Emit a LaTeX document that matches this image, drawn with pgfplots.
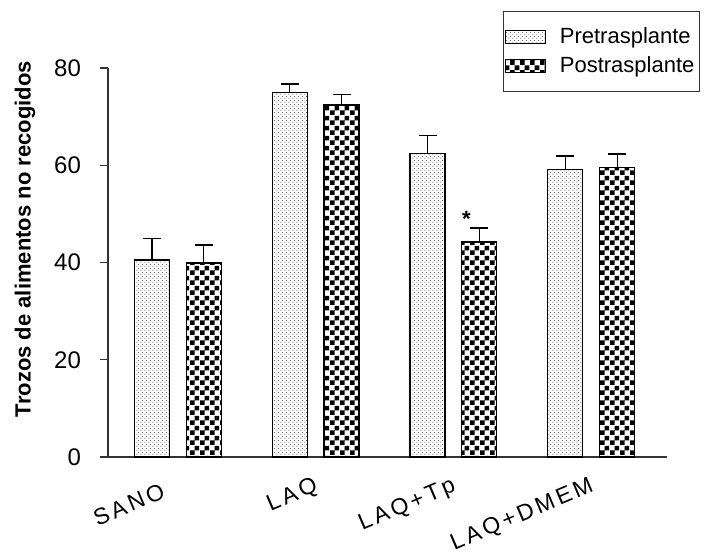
\documentclass[border=0pt]{standalone}
\usepackage{pgfplots}
\pgfplotsset{compat=1.18}
\usepackage{fontspec}
\setmainfont{Liberation Sans}
\newfontfamily\spaced[LetterSpace=14]{Liberation Sans}
\usetikzlibrary{patterns.meta}

\pgfdeclarepattern{
  name=checker, type=uncolored,
  bottom left={\pgfpoint{0pt}{0pt}},
  top right={\pgfpoint{5pt}{5pt}},
  tile size={\pgfpoint{5pt}{5pt}},
  code={
    \pgfpathrectangle{\pgfpoint{0pt}{0pt}}{\pgfpoint{2.5pt}{2.5pt}}
    \pgfpathrectangle{\pgfpoint{2.5pt}{2.5pt}}{\pgfpoint{2.5pt}{2.5pt}}
    \pgfusepath{fill}
  }
}
\pgfdeclarepattern{
  name=finedots, type=uncolored,
  bottom left={\pgfpoint{0pt}{0pt}},
  top right={\pgfpoint{2pt}{2pt}},
  tile size={\pgfpoint{2pt}{2pt}},
  code={
    \pgfpathcircle{\pgfpoint{0.5pt}{0.5pt}}{0.32pt}
    \pgfpathcircle{\pgfpoint{1.5pt}{1.5pt}}{0.32pt}
    \pgfusepath{fill}
  }
}

\pgfplotstableread{
x  pre  preerr  post  posterr
0  40.5  4.5    39.9  3.7
1  74.9  1.8    72.4  2.2
2  62.5  3.7    44.2  2.9
3  59.2  2.7    59.6  2.7
}\datatable

\begin{document}
\begin{tikzpicture}
\begin{axis}[
  scale only axis,
  width=279.5pt, height=194.5pt,
  xmin=-0.507, xmax=3.55,
  ymin=0, ymax=80,
  ybar,
  axis lines*=left,
  axis line style={line width=0.7pt, black!80},
  ytick={0,20,40,60,80},
  xtick={0,1,2,3},
  xticklabels={SANO\hspace*{8pt}, LAQ, LAQ+Tp, LAQ+DMEM},
  x tick style={draw=none},
  y tick style={line width=0.7pt, black!80},
  tick align=outside,
  major tick length=4pt,
  /pgf/number format/assume math mode=true,
  yticklabel style={font=\fontsize{12}{14}\selectfont, xshift=-6pt},
  xticklabel style={font=\fontsize{11.5}{14}\selectfont\spaced, rotate=23, anchor=north east, yshift=-1pt, xshift=0pt},
  ylabel={Trozos de alimentos no recogidos},
  ylabel style={font=\fontsize{11}{13}\selectfont\bfseries, at={(axis description cs:-0.1485,0.56)}, anchor=center},
  bar width=0.254,
  legend style={at={(1.059,1.146)}, anchor=north east, draw=black!80, line width=0.6pt,
    font=\fontsize{11}{13}\selectfont, row sep=1pt, inner xsep=0.5pt, inner ysep=6pt, cells={anchor=west}},
  legend image code/.code={\draw[#1, line width=0.5pt] (0pt,-3.25pt) rectangle (20pt,3.25pt);},
]
\addplot[bar shift=-0.188, draw=black, line width=0.6pt, pattern={finedots}, pattern color=black!65,
  error bars/.cd, y dir=plus, y explicit,
  error bar style={line width=0.6pt, black},
  error mark options={rotate=90, mark size=4.5pt, line width=0.6pt, black}]
  table[x=x, y=pre, y error=preerr] {\datatable};
\addlegendentry{\hspace*{5pt}Pretrasplante}
\addplot[bar shift=0.188, draw=black, line width=0.6pt, pattern={checker}, pattern color=black,
  error bars/.cd, y dir=plus, y explicit,
  error bar style={line width=0.6pt, black},
  error mark options={rotate=90, mark size=4.5pt, line width=0.6pt, black}]
  table[x=x, y=post, y error=posterr] {\datatable};
\addlegendentry{\hspace*{5pt}Postrasplante}
\node[font=\fontsize{11}{13}\selectfont\bfseries] at (axis cs:2.095,49.0) {*};
\end{axis}
\pgfresetboundingbox
\path (-54pt,-48.5pt) rectangle (302.5pt,228.5pt);
\end{tikzpicture}
\end{document}
